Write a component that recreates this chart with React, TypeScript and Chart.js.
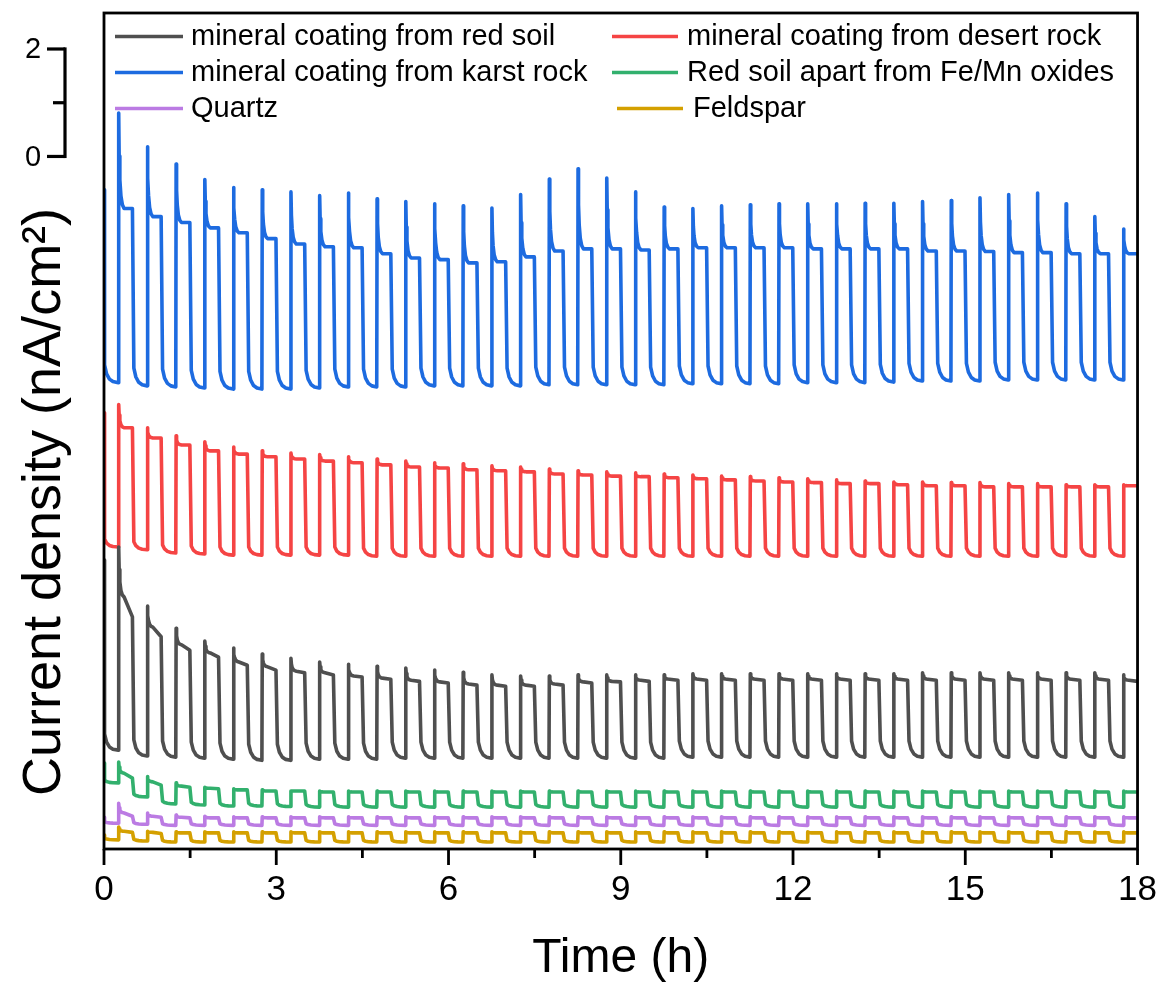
import React, { useEffect, useRef } from "react";
import { Chart, registerables } from "chart.js";

Chart.register(...registerables);

const FONT = '"Liberation Sans", Arial, Helvetica, sans-serif';

// Light-on instants (h); each illumination lasts ~0.25 h, then dark for ~0.25 h
const LIGHT_ON = [
  0.25, 0.75, 1.25, 1.75, 2.25, 2.75, 3.25, 3.75, 4.25, 4.75, 5.25, 5.75,
  6.25, 6.75, 7.25, 7.75, 8.25, 8.75, 9.25, 9.75, 10.25, 10.75, 11.25, 11.75,
  12.25, 12.75, 13.25, 13.75, 14.25, 14.75, 15.25, 15.75, 16.25, 16.75, 17.25, 17.75,
];
const X_TICKS = [0, 3, 6, 9, 12, 15, 18];
const SCALE_BAR_VALUES = [0, 1, 2];
const SCALE_BAR_LABELS = ["0", "", "2"];
const X_TITLE = "Time (h)";
const Y_TITLE = "Current density (nA/cm²)";

// ---- mineral coating from karst rock (blue) ----
const BLUE_INIT = -0.62;
const BLUE_TAIL = -3.79;
const BLUE_DROP = 0.33;
const BLUE_PEAK = [
  0.81, 0.18, -0.14, -0.43, -0.58, -0.62, -0.66, -0.73, -0.68, -0.79, -0.84, -0.88,
  -0.92, -0.96, -0.71, -0.42, -0.23, -0.40, -0.66, -0.94, -0.97, -0.92, -0.90, -0.88,
  -0.88, -0.88, -0.87, -0.87, -0.84, -0.82, -0.77, -0.71, -0.68, -0.88, -1.12, -1.35,
];
const BLUE_PLATEAU = [
  -0.97, -1.12, -1.23, -1.33, -1.42, -1.53, -1.63, -1.68, -1.70, -1.81, -1.89, -1.92,
  -1.98, -1.96, -1.87, -1.76, -1.72, -1.72, -1.74, -1.72, -1.70, -1.70, -1.70, -1.70,
  -1.72, -1.72, -1.72, -1.72, -1.76, -1.76, -1.77, -1.79, -1.79, -1.81, -1.81, -1.81,
];
const BLUE_LOW = [
  -4.21, -4.27, -4.29, -4.31, -4.33, -4.33, -4.33, -4.31, -4.29, -4.29, -4.29, -4.27,
  -4.27, -4.27, -4.27, -4.25, -4.25, -4.25, -4.25, -4.25, -4.23, -4.23, -4.23, -4.23,
  -4.21, -4.21, -4.21, -4.20, -4.18, -4.18, -4.18, -4.16, -4.16, -4.16, -4.16, -4.16,
];

// ---- mineral coating from desert rock (red) ----
const RED_INIT = -4.77;
const RED_DROP = 0.15;
const RED_PEAK = [
  -4.62, -5.05, -5.20, -5.31, -5.41, -5.48, -5.52, -5.55, -5.59, -5.63, -5.67, -5.70,
  -5.72, -5.76, -5.78, -5.82, -5.85, -5.87, -5.89, -5.91, -5.93, -5.95, -5.96, -5.98,
  -6.00, -6.02, -6.04, -6.06, -6.06, -6.07, -6.07, -6.09, -6.09, -6.11, -6.11, -6.11,
];
const RED_PLATEAU = [
  -5.05, -5.24, -5.37, -5.48, -5.54, -5.59, -5.63, -5.67, -5.70, -5.74, -5.78, -5.80,
  -5.83, -5.85, -5.87, -5.91, -5.93, -5.95, -5.96, -5.98, -6.00, -6.02, -6.04, -6.06,
  -6.07, -6.09, -6.09, -6.11, -6.13, -6.13, -6.15, -6.15, -6.15, -6.15, -6.15, -6.13,
];
const RED_LOW = [
  -7.27, -7.32, -7.38, -7.40, -7.42, -7.42, -7.42, -7.42, -7.42, -7.44, -7.44, -7.44,
  -7.44, -7.44, -7.44, -7.44, -7.44, -7.44, -7.44, -7.44, -7.44, -7.44, -7.44, -7.44,
  -7.44, -7.44, -7.44, -7.44, -7.44, -7.44, -7.44, -7.44, -7.44, -7.44, -7.44, -7.44,
];

// ---- mineral coating from red soil (dark grey) ----
const BLACK_INIT = -7.51;
const BLACK_DROP = 0.3;
const BLACK_PEAK = [
  -7.27, -8.37, -8.78, -9.02, -9.15, -9.26, -9.34, -9.41, -9.45, -9.49, -9.52, -9.56,
  -9.60, -9.65, -9.67, -9.67, -9.65, -9.65, -9.65, -9.65, -9.63, -9.63, -9.63, -9.63,
  -9.63, -9.63, -9.63, -9.63, -9.61, -9.61, -9.61, -9.61, -9.61, -9.61, -9.61, -9.65,
];
const BLACK_PLATEAU_START = [
  -8.20, -8.76, -9.09, -9.24, -9.41, -9.50, -9.58, -9.61, -9.67, -9.71, -9.75, -9.78,
  -9.82, -9.84, -9.84, -9.82, -9.78, -9.77, -9.75, -9.73, -9.73, -9.73, -9.73, -9.73,
  -9.73, -9.73, -9.73, -9.73, -9.73, -9.73, -9.73, -9.73, -9.73, -9.73, -9.73, -9.75,
];
const BLACK_PLATEAU = [
  -8.57, -8.94, -9.19, -9.32, -9.47, -9.56, -9.61, -9.65, -9.69, -9.73, -9.77, -9.80,
  -9.84, -9.86, -9.86, -9.84, -9.80, -9.78, -9.77, -9.75, -9.75, -9.75, -9.75, -9.75,
  -9.75, -9.75, -9.75, -9.75, -9.75, -9.75, -9.75, -9.75, -9.75, -9.75, -9.75, -9.77,
];
const BLACK_LOW = [
  -11.05, -11.16, -11.18, -11.20, -11.22, -11.24, -11.24, -11.22, -11.22, -11.22, -11.20, -11.20,
  -11.20, -11.20, -11.20, -11.20, -11.20, -11.20, -11.20, -11.20, -11.18, -11.18, -11.18, -11.18,
  -11.18, -11.18, -11.18, -11.18, -11.18, -11.18, -11.18, -11.18, -11.18, -11.18, -11.18, -11.18,
];

// ---- Red soil apart from Fe/Mn oxides (green) ----
const GREEN_INIT = -11.29;
const GREEN_DROP = 0.05;
const GREEN_PEAK = [
  -11.27, -11.54, -11.66, -11.74, -11.77, -11.79, -11.81, -11.81, -11.81, -11.81, -11.81, -11.81,
  -11.81, -11.81, -11.81, -11.81, -11.81, -11.81, -11.81, -11.81, -11.81, -11.81, -11.81, -11.81,
  -11.81, -11.81, -11.81, -11.81, -11.81, -11.81, -11.81, -11.81, -11.81, -11.81, -11.81, -11.81,
];
const GREEN_PLATEAU_START = [
  -11.48, -11.64, -11.72, -11.76, -11.79, -11.81, -11.81, -11.83, -11.83, -11.83, -11.83, -11.83,
  -11.83, -11.83, -11.83, -11.83, -11.83, -11.83, -11.83, -11.83, -11.83, -11.83, -11.83, -11.83,
  -11.83, -11.83, -11.83, -11.83, -11.83, -11.83, -11.83, -11.83, -11.83, -11.83, -11.83, -11.83,
];
const GREEN_PLATEAU = [
  -11.57, -11.70, -11.74, -11.77, -11.79, -11.81, -11.81, -11.83, -11.83, -11.83, -11.83, -11.83,
  -11.83, -11.83, -11.83, -11.83, -11.83, -11.83, -11.83, -11.83, -11.83, -11.83, -11.83, -11.83,
  -11.83, -11.83, -11.83, -11.83, -11.83, -11.83, -11.83, -11.83, -11.83, -11.83, -11.83, -11.83,
];
const GREEN_LOW = [
  -11.66, -11.92, -12.05, -12.07, -12.09, -12.09, -12.10, -12.11, -12.11, -12.11, -12.11, -12.11,
  -12.11, -12.11, -12.11, -12.11, -12.11, -12.11, -12.11, -12.11, -12.11, -12.11, -12.11, -12.11,
  -12.11, -12.11, -12.11, -12.11, -12.11, -12.11, -12.11, -12.11, -12.11, -12.11, -12.11, -12.11,
];

// ---- Quartz (purple) ----
const PURPLE_INIT = -12.3;
const PURPLE_DROP = 0.03;
const PURPLE_PEAK = [
  -12.04, -12.22, -12.26, -12.28, -12.29, -12.29, -12.29, -12.29, -12.29, -12.29, -12.29, -12.29,
  -12.29, -12.29, -12.29, -12.29, -12.29, -12.29, -12.29, -12.29, -12.29, -12.29, -12.29, -12.29,
  -12.29, -12.29, -12.29, -12.29, -12.29, -12.29, -12.29, -12.29, -12.29, -12.29, -12.29, -12.29,
];
const PURPLE_PLATEAU_START = [
  -12.22, -12.28, -12.30, -12.31, -12.31, -12.31, -12.31, -12.31, -12.31, -12.31, -12.31, -12.31,
  -12.31, -12.31, -12.31, -12.31, -12.31, -12.31, -12.31, -12.31, -12.31, -12.31, -12.31, -12.31,
  -12.31, -12.31, -12.31, -12.31, -12.31, -12.31, -12.31, -12.31, -12.31, -12.31, -12.31, -12.31,
];
const PURPLE_PLATEAU = [
  -12.28, -12.30, -12.31, -12.31, -12.31, -12.31, -12.31, -12.31, -12.31, -12.31, -12.31, -12.31,
  -12.31, -12.31, -12.31, -12.31, -12.31, -12.31, -12.31, -12.31, -12.31, -12.31, -12.31, -12.31,
  -12.31, -12.31, -12.31, -12.31, -12.31, -12.31, -12.31, -12.31, -12.31, -12.31, -12.31, -12.31,
];
const PURPLE_LOW = [
  -12.41, -12.43, -12.45, -12.45, -12.45, -12.45, -12.45, -12.45, -12.45, -12.45, -12.45, -12.45,
  -12.45, -12.45, -12.45, -12.45, -12.45, -12.45, -12.45, -12.45, -12.45, -12.45, -12.45, -12.45,
  -12.45, -12.45, -12.45, -12.45, -12.45, -12.45, -12.45, -12.45, -12.45, -12.45, -12.45, -12.45,
];

// ---- Feldspar (gold) ----
const GOLD_INIT = -12.63;
const GOLD_DROP = 0.03;
const GOLD_PEAK = [
  -12.48, -12.56, -12.57, -12.57, -12.57, -12.57, -12.57, -12.57, -12.57, -12.57, -12.57, -12.57,
  -12.57, -12.57, -12.57, -12.57, -12.57, -12.57, -12.57, -12.57, -12.57, -12.57, -12.57, -12.57,
  -12.57, -12.57, -12.57, -12.57, -12.57, -12.57, -12.57, -12.57, -12.57, -12.57, -12.57, -12.57,
];
const GOLD_PLATEAU_START = [
  -12.56, -12.58, -12.59, -12.59, -12.59, -12.59, -12.59, -12.59, -12.59, -12.59, -12.59, -12.59,
  -12.59, -12.59, -12.59, -12.59, -12.59, -12.59, -12.59, -12.59, -12.59, -12.59, -12.59, -12.59,
  -12.59, -12.59, -12.59, -12.59, -12.59, -12.59, -12.59, -12.59, -12.59, -12.59, -12.59, -12.59,
];
const GOLD_PLATEAU = [
  -12.58, -12.60, -12.59, -12.59, -12.59, -12.59, -12.59, -12.59, -12.59, -12.59, -12.59, -12.59,
  -12.59, -12.59, -12.59, -12.59, -12.59, -12.59, -12.59, -12.59, -12.59, -12.59, -12.59, -12.59,
  -12.59, -12.59, -12.59, -12.59, -12.59, -12.59, -12.59, -12.59, -12.59, -12.59, -12.59, -12.59,
];
const GOLD_LOW = [
  -12.72, -12.74, -12.76, -12.76, -12.76, -12.76, -12.76, -12.76, -12.76, -12.76, -12.76, -12.76,
  -12.76, -12.76, -12.76, -12.76, -12.76, -12.76, -12.76, -12.76, -12.76, -12.76, -12.76, -12.76,
  -12.76, -12.76, -12.76, -12.76, -12.76, -12.76, -12.76, -12.76, -12.76, -12.76, -12.76, -12.76,
];

type Series = {
  label: string;
  color: string;
  init: number;
  peak: number[];
  plateauStart?: number[];
  plateau: number[];
  low: number[];
  drop: number;
  tail?: number;
};

const SERIES: Series[] = [
  { label: "mineral coating from red soil", color: "#4f4f4f", init: BLACK_INIT, peak: BLACK_PEAK, plateauStart: BLACK_PLATEAU_START, plateau: BLACK_PLATEAU, low: BLACK_LOW, drop: BLACK_DROP },
  { label: "mineral coating from desert rock", color: "#f54444", init: RED_INIT, peak: RED_PEAK, plateau: RED_PLATEAU, low: RED_LOW, drop: RED_DROP },
  { label: "mineral coating from karst rock", color: "#1d6be0", init: BLUE_INIT, peak: BLUE_PEAK, plateau: BLUE_PLATEAU, low: BLUE_LOW, drop: BLUE_DROP, tail: BLUE_TAIL },
  { label: "Red soil apart from Fe/Mn oxides", color: "#32b06d", init: GREEN_INIT, peak: GREEN_PEAK, plateauStart: GREEN_PLATEAU_START, plateau: GREEN_PLATEAU, low: GREEN_LOW, drop: GREEN_DROP },
  { label: "Quartz", color: "#bb7be3", init: PURPLE_INIT, peak: PURPLE_PEAK, plateauStart: PURPLE_PLATEAU_START, plateau: PURPLE_PLATEAU, low: PURPLE_LOW, drop: PURPLE_DROP },
  { label: "Feldspar", color: "#d4a000", init: GOLD_INIT, peak: GOLD_PEAK, plateauStart: GOLD_PLATEAU_START, plateau: GOLD_PLATEAU, low: GOLD_LOW, drop: GOLD_DROP },
];

function addDarkDecay(pts: { x: number; y: number }[], tOff: number, low: number, drop: number) {
  const dt = [0.025, 0.06, 0.11, 0.17];
  const fr = [1, 0.5, 0.2, 0.06];
  for (let i = 0; i < dt.length; i++) pts.push({ x: tOff + dt[i], y: low + fr[i] * drop });
}

function buildPoints(s: Series) {
  const pts: { x: number; y: number }[] = [{ x: 0, y: s.init }];
  const ps = s.plateauStart || s.plateau;
  addDarkDecay(pts, -0.015, s.low[0], s.drop);
  const n = LIGHT_ON.length;
  for (let k = 0; k < n; k++) {
    const t = LIGHT_ON[k];
    const pk = s.peak[k];
    const a = ps[k];
    const b = s.plateau[k];
    pts.push({ x: t, y: s.low[k] });
    pts.push({ x: t + 0.006, y: pk });
    pts.push({ x: t + 0.014, y: a + 0.55 * (pk - a) });
    pts.push({ x: t + 0.026, y: a + 0.3 * (pk - a) });
    pts.push({ x: t + 0.045, y: a + 0.13 * (pk - a) });
    pts.push({ x: t + 0.07, y: a + 0.04 * (pk - a) });
    pts.push({ x: t + 0.1, y: a });
    if (k < n - 1) {
      const tOff = t + 0.245;
      pts.push({ x: tOff, y: b });
      addDarkDecay(pts, tOff, s.low[k + 1], s.drop);
    } else {
      pts.push({ x: 18, y: b });
      if (s.tail !== undefined) pts.push({ x: 18.004, y: s.tail });
    }
  }
  return pts;
}

const decorPlugin = {
  id: "decor",
  afterDraw(chart: any) {
    const { ctx, chartArea: a, scales } = chart;
    const xs = scales.x;
    const ys = scales.y;
    ctx.save();
    ctx.strokeStyle = "#000";
    ctx.fillStyle = "#000";
    // frame
    ctx.lineWidth = 2.8;
    ctx.strokeRect(a.left, a.top, a.right - a.left, a.bottom - a.top);
    // x tick marks (major every 3 h, minor halfway)
    for (let i = 0; i < X_TICKS.length * 2 - 1; i++) {
      const v = (X_TICKS[1] - X_TICKS[0]) * i / 2;
      const px = xs.getPixelForValue(v);
      const len = i % 2 === 0 ? 16 : 9;
      ctx.beginPath();
      ctx.moveTo(px, a.bottom);
      ctx.lineTo(px, a.bottom + len);
      ctx.stroke();
    }
    // y title
    ctx.save();
    ctx.translate(60, 502);
    ctx.rotate(-Math.PI / 2);
    ctx.font = `54px ${FONT}`;
    ctx.textAlign = "center";
    ctx.textBaseline = "alphabetic";
    ctx.fillText(Y_TITLE, 0, 0);
    ctx.restore();
    // scale bar
    const bx = 65;
    const yTop = ys.getPixelForValue(SCALE_BAR_VALUES[SCALE_BAR_VALUES.length - 1]);
    const yBot = ys.getPixelForValue(SCALE_BAR_VALUES[0]);
    ctx.lineWidth = 3.2;
    ctx.beginPath();
    ctx.moveTo(bx, yTop - 1.6);
    ctx.lineTo(bx, yBot + 1.6);
    ctx.stroke();
    ctx.font = `29px ${FONT}`;
    ctx.textAlign = "center";
    ctx.textBaseline = "middle";
    SCALE_BAR_VALUES.forEach((v, i) => {
      const py = ys.getPixelForValue(v);
      const lab = SCALE_BAR_LABELS[i];
      ctx.beginPath();
      ctx.moveTo(lab ? 47 : 53, py);
      ctx.lineTo(bx, py);
      ctx.stroke();
      if (lab) ctx.fillText(lab, 33, py + 1.5);
    });
    // legend
    const items = [
      { s: 0, x0: 115, x1: 183, tx: 191, y: 36.5 },
      { s: 1, x0: 612, x1: 678, tx: 687, y: 36.5 },
      { s: 2, x0: 115, x1: 183, tx: 191, y: 72.5 },
      { s: 3, x0: 612, x1: 678, tx: 687, y: 72.5 },
      { s: 4, x0: 115, x1: 183, tx: 191, y: 108.5 },
      { s: 5, x0: 617, x1: 683, tx: 693, y: 108.5 },
    ];
    ctx.font = `29px ${FONT}`;
    ctx.textAlign = "left";
    ctx.textBaseline = "middle";
    items.forEach((it) => {
      const ser = SERIES[it.s];
      ctx.strokeStyle = ser.color;
      ctx.lineWidth = 3.5;
      ctx.beginPath();
      ctx.moveTo(it.x0, it.y);
      ctx.lineTo(it.x1, it.y);
      ctx.stroke();
      ctx.fillStyle = "#000";
      ctx.fillText(ser.label, it.tx, it.y);
    });
    ctx.restore();
  },
};

export default function App() {
  const ref = useRef<HTMLCanvasElement | null>(null);
  useEffect(() => {
    if (!ref.current) return;
    Chart.defaults.font.family = FONT;
    const chart = new Chart(ref.current, {
      type: "line",
      data: {
        datasets: SERIES.map((s) => ({
          label: s.label,
          data: buildPoints(s),
          borderColor: s.color,
          backgroundColor: s.color,
          borderWidth: 3.6,
          pointRadius: 0,
          tension: 0,
          fill: false,
          borderJoinStyle: "round" as const,
          borderCapStyle: "round" as const,
        })),
      },
      options: {
        responsive: false,
        animation: false,
        layout: { padding: { left: 0, right: 21, top: 13, bottom: 0 } },
        plugins: { legend: { display: false }, tooltip: { enabled: false } },
        scales: {
          x: {
            type: "linear",
            min: 0,
            max: 18,
            afterBuildTicks: (scale: any) => {
              scale.ticks = X_TICKS.map((v) => ({ value: v }));
            },
            afterFit: (scale: any) => {
              scale.height = 134;
            },
            grid: { display: false, drawTicks: true, tickLength: 16 },
            border: { display: false },
            ticks: {
              color: "#000",
              font: { family: FONT, size: 35 },
              padding: 4,
              maxRotation: 0,
              autoSkip: false,
            },
            title: {
              display: true,
              text: X_TITLE,
              color: "#000",
              font: { family: FONT, size: 48, lineHeight: 1 },
              padding: { top: 0, bottom: 0 },
            },
          },
          y: {
            type: "linear",
            min: -12.89,
            max: 2.67,
            afterFit: (scale: any) => {
              scale.width = 104;
            },
            grid: { display: false },
            border: { display: false },
            ticks: { display: false },
            title: { display: false },
          },
        },
      },
      plugins: [decorPlugin],
    } as any);
    return () => chart.destroy();
  }, []);
  return (
    <div style={{ position: "absolute", left: 0, top: 0, width: 1161, height: 983, background: "#fff" }}>
      <canvas ref={ref} width={1161} height={983} style={{ width: 1161, height: 983, display: "block" }} />
    </div>
  );
}
